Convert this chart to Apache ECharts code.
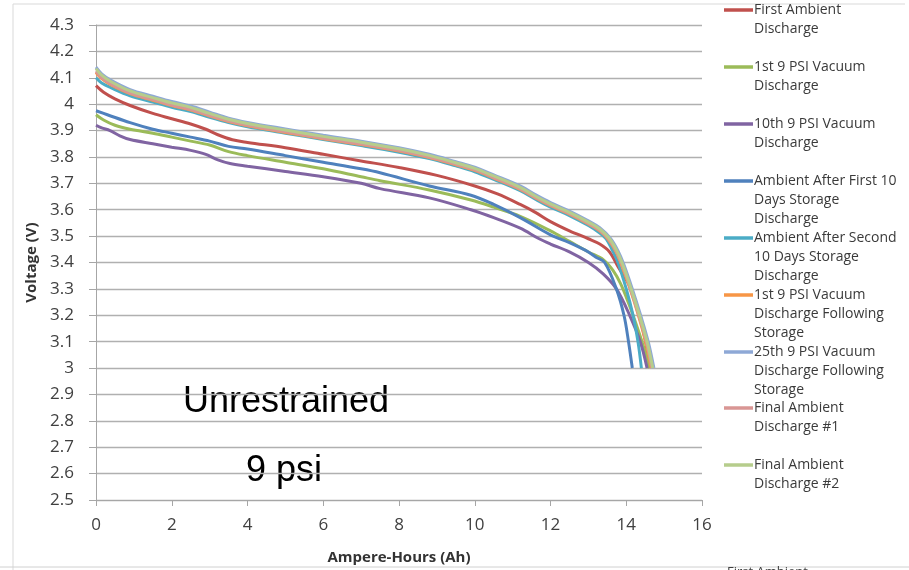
<!DOCTYPE html>
<html>
<head>
<meta charset="utf-8">
<script src="https://cdn.jsdelivr.net/npm/echarts@6/dist/echarts.min.js"></script>
<style>
  html, body { margin: 0; padding: 0; background: #ffffff; }
  #chart { width: 909px; height: 570px; }
</style>
</head>
<body>
<div id="chart"></div>
<script>
// Discharge curves: [ampere-hours, volts]
const firstAmbient = [[0,4.07],[0.2,4.045],[0.5,4.02],[0.9,3.995],[1.5,3.965],[2.0,3.945],[2.5,3.925],[2.9,3.905],[3.2,3.885],[3.6,3.865],[4.0,3.855],[5.0,3.835],[6.0,3.81],[7.0,3.785],[8.0,3.76],[9.0,3.73],[10.0,3.69],[10.6,3.66],[11.2,3.62],[11.6,3.59],[12.0,3.555],[12.5,3.52],[13.0,3.49],[13.3,3.47],[13.56,3.44],[13.8,3.38],[14.13,3.3],[14.35,3.2],[14.51,3.1],[14.62,3.0]];
const vac1st = [[0,3.96],[0.2,3.94],[0.5,3.92],[0.9,3.905],[1.5,3.89],[2.0,3.875],[2.5,3.86],[3.0,3.845],[3.5,3.82],[4.0,3.805],[5.0,3.78],[6.0,3.755],[7.0,3.725],[7.5,3.71],[8.8,3.675],[9.9,3.637],[10.5,3.61],[11.2,3.575],[12.0,3.52],[12.5,3.48],[13.0,3.44],[13.4,3.41],[13.65,3.37],[13.85,3.32],[14.05,3.25],[14.3,3.15],[14.48,3.07],[14.6,3.0]];
const vac10th = [[0,3.92],[0.15,3.91],[0.37,3.9],[0.63,3.88],[0.9,3.866],[1.5,3.85],[2.0,3.837],[2.5,3.825],[2.9,3.81],[3.2,3.79],[3.54,3.775],[4.0,3.765],[5.0,3.745],[6.0,3.725],[7.0,3.7],[7.5,3.68],[8.8,3.645],[9.9,3.6],[10.5,3.57],[11.2,3.53],[11.7,3.49],[12.0,3.47],[12.5,3.44],[13.0,3.4],[13.39,3.357],[13.74,3.3],[14.09,3.2],[14.37,3.1],[14.55,3.0]];
const ambientStorage1 = [[0,3.975],[0.3,3.96],[0.9,3.93],[1.5,3.905],[2.0,3.89],[2.5,3.875],[3.0,3.86],[3.5,3.84],[4.0,3.83],[5.0,3.805],[6.0,3.78],[7.0,3.755],[7.5,3.74],[8.8,3.69],[9.9,3.655],[10.5,3.62],[11.2,3.57],[12.0,3.505],[12.5,3.475],[13.0,3.44],[13.2,3.42],[13.43,3.4],[13.74,3.3],[13.94,3.2],[14.06,3.1],[14.16,3.0]];
const ambientStorage2 = [[0,4.1],[0.15,4.08],[0.4,4.062],[0.9,4.032],[1.5,4.008],[2.0,3.988],[2.5,3.972],[3.0,3.95],[3.5,3.93],[4.0,3.914],[5.0,3.89],[6.0,3.866],[7.0,3.843],[8.0,3.818],[8.8,3.794],[9.5,3.766],[10.0,3.744],[10.5,3.715],[11.2,3.672],[11.6,3.64],[12.0,3.61],[12.5,3.578],[13.0,3.54],[13.3,3.512],[13.47,3.49],[13.62,3.45],[13.78,3.4],[14.0,3.3],[14.18,3.2],[14.31,3.1],[14.4,3.0]];
const vac1stStored = [[0,4.12],[0.15,4.097],[0.4,4.073],[0.9,4.04],[1.5,4.015],[2.0,3.995],[2.5,3.978],[3.0,3.955],[3.5,3.934],[4.0,3.918],[5.0,3.893],[6.0,3.869],[7.0,3.847],[8.0,3.822],[8.8,3.798],[9.5,3.77],[10.0,3.749],[10.5,3.72],[11.2,3.677],[11.6,3.645],[12.0,3.615],[12.5,3.583],[13.0,3.546],[13.3,3.52],[13.52,3.488],[13.72,3.443],[13.87,3.393],[14.1,3.3],[14.32,3.2],[14.51,3.1],[14.66,3.0]];
const vac25thStored = [[0,4.14],[0.15,4.115],[0.4,4.09],[0.9,4.055],[1.5,4.03],[2.0,4.01],[2.5,3.993],[3.0,3.97],[3.5,3.947],[4.0,3.931],[5.0,3.906],[6.0,3.882],[7.0,3.86],[8.0,3.835],[8.8,3.81],[9.5,3.782],[10.0,3.761],[10.5,3.732],[11.2,3.69],[11.6,3.657],[12.0,3.627],[12.5,3.595],[13.0,3.558],[13.3,3.532],[13.58,3.492],[13.78,3.445],[13.93,3.395],[14.16,3.3],[14.38,3.2],[14.58,3.1],[14.73,3.0]];
const finalAmbient1 = [[0,4.125],[0.15,4.1],[0.4,4.076],[0.9,4.042],[1.5,4.017],[2.0,3.997],[2.5,3.98],[3.0,3.957],[3.5,3.936],[4.0,3.92],[5.0,3.895],[6.0,3.871],[7.0,3.849],[8.0,3.824],[8.8,3.8],[9.5,3.772],[10.0,3.751],[10.5,3.722],[11.2,3.679],[11.6,3.647],[12.0,3.617],[12.5,3.585],[13.0,3.548],[13.3,3.522],[13.53,3.49],[13.73,3.445],[13.88,3.395],[14.11,3.3],[14.33,3.2],[14.53,3.1],[14.68,3.0]];
const finalAmbient2 = [[0,4.135],[0.15,4.11],[0.4,4.085],[0.9,4.05],[1.5,4.025],[2.0,4.005],[2.5,3.988],[3.0,3.965],[3.5,3.943],[4.0,3.927],[5.0,3.902],[6.0,3.878],[7.0,3.856],[8.0,3.831],[8.8,3.806],[9.5,3.778],[10.0,3.757],[10.5,3.728],[11.2,3.685],[11.6,3.652],[12.0,3.622],[12.5,3.59],[13.0,3.553],[13.3,3.527],[13.55,3.492],[13.75,3.445],[13.9,3.395],[14.13,3.3],[14.35,3.2],[14.55,3.1],[14.7,3.0]];

const seriesNames = [
  'First Ambient\nDischarge',
  '1st 9 PSI Vacuum\nDischarge',
  '10th 9 PSI Vacuum\nDischarge',
  'Ambient After First 10\nDays Storage\nDischarge',
  'Ambient After Second\n10 Days Storage\nDischarge',
  '1st 9 PSI Vacuum\nDischarge Following\nStorage',
  '25th 9 PSI Vacuum\nDischarge Following\nStorage',
  'Final Ambient\nDischarge #1',
  'Final Ambient\nDischarge #2'
];
const seriesData = [firstAmbient, vac1st, vac10th, ambientStorage1, ambientStorage2,
                    vac1stStored, vac25thStored, finalAmbient1, finalAmbient2];
const seriesColors = ['#C0504D', '#9BBB59', '#8064A2', '#4F81BD', '#4BACC6',
                      '#F79646', '#8EA8D6', '#D99694', '#B6CD8C'];

const xTicks = { min: 0, max: 16, step: 2 };
const yTicks = { min: 2.5, max: 4.3, step: 0.1 };

const chart = echarts.init(document.getElementById('chart'), null, { renderer: 'canvas' });

const labelFont = '"Open Sans", "Liberation Sans", sans-serif';

// Legend drawn on the right: a short line swatch beside each wrapped name
const legendGraphics = [];
const legendRowY = [10, 67, 124, 181, 238, 295, 352, 408, 465];
seriesNames.forEach((name, i) => {
  const y = legendRowY[i];
  legendGraphics.push({
    type: 'line',
    shape: { x1: 724, y1: y, x2: 753, y2: y },
    style: { stroke: seriesColors[i], lineWidth: 3.5 },
    silent: true
  });
  legendGraphics.push({
    type: 'text',
    x: 754,
    y: y - 10,
    style: {
      text: name,
      font: '14px ' + labelFont,
      lineHeight: 19.3,
      fill: '#3A3A3A',
      verticalAlign: 'top'
    },
    silent: true
  });
});

const option = {
  backgroundColor: '#ffffff',
  animation: false,
  grid: { left: 96, right: 207, top: 25, bottom: 65, containLabel: false },
  xAxis: {
    type: 'value',
    min: xTicks.min, max: xTicks.max, interval: xTicks.step,
    name: 'Ampere-Hours (Ah)',
    nameLocation: 'middle',
    nameGap: 50,
    nameTextStyle: { fontFamily: labelFont, fontWeight: 'bold', fontSize: 15, color: '#333333' },
    axisLine: { show: true, lineStyle: { color: '#A6A6A6', width: 1 } },
    axisTick: { show: true, inside: false, length: 6, lineStyle: { color: '#A6A6A6' } },
    axisLabel: { fontFamily: labelFont, fontSize: 17, color: '#404040', margin: 17 },
    splitLine: { show: false }
  },
  yAxis: {
    type: 'value',
    min: yTicks.min, max: yTicks.max, interval: yTicks.step,
    name: 'Voltage (V)',
    nameLocation: 'middle',
    nameGap: 52,
    nameRotate: 90,
    nameTextStyle: { fontFamily: labelFont, fontWeight: 'bold', fontSize: 15, color: '#333333' },
    axisLine: { show: true, lineStyle: { color: '#A6A6A6', width: 1 } },
    axisTick: { show: true, inside: false, length: 7, lineStyle: { color: '#A6A6A6' } },
    axisLabel: {
      fontFamily: labelFont, fontSize: 17, color: '#404040', margin: 22,
      formatter: v => String(+v.toFixed(1))
    },
    splitLine: { show: true, lineStyle: { color: '#B0B0B0', width: 1.3 } }
  },
  series: seriesData.map((d, i) => ({
    name: seriesNames[i],
    type: 'line',
    data: d,
    smooth: 0.35,
    showSymbol: false,
    lineStyle: { color: seriesColors[i], width: 3 },
    itemStyle: { color: seriesColors[i] }
  })),
  graphic: [
    // outer frame of the chart area
    { type: 'line', shape: { x1: 13, y1: 4, x2: 905, y2: 4 }, style: { stroke: '#D9D9D9', lineWidth: 1 }, silent: true },
    { type: 'line', shape: { x1: 13, y1: 4, x2: 13, y2: 570 }, style: { stroke: '#D9D9D9', lineWidth: 1 }, silent: true },
    { type: 'line', shape: { x1: 0, y1: 567, x2: 909, y2: 567 }, style: { stroke: '#D0D0D0', lineWidth: 1 }, silent: true },
    // start of the next panel's legend, cut by the lower edge
    {
      type: 'text', x: 727, y: 566,
      style: { text: 'First Ambient', font: '13px ' + labelFont, fill: '#404040', verticalAlign: 'top' },
      silent: true
    },
    {
      type: 'text', x: 286, y: 402,
      style: { text: 'Unrestrained', font: '36px "Liberation Sans", Arial, sans-serif', fill: '#000000', align: 'center', verticalAlign: 'middle' },
      silent: true
    },
    {
      type: 'text', x: 284, y: 471,
      style: { text: '9 psi', font: '36px "Liberation Sans", Arial, sans-serif', fill: '#000000', align: 'center', verticalAlign: 'middle' },
      silent: true
    }
  ].concat(legendGraphics)
};

chart.setOption(option);
</script>
</body>
</html>
